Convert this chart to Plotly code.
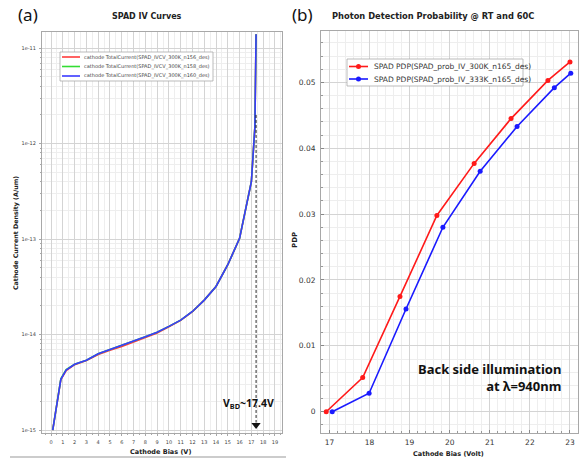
import plotly.graph_objects as go

W, H = 580, 461

# ---------------- data: panel (a) ----------------
iv_names = ["cathode TotalCurrent(SPAD_IVCV_300K_n156_des)",
            "cathode TotalCurrent(SPAD_IVCV_300K_n158_des)",
            "cathode TotalCurrent(SPAD_IVCV_300K_n160_des)"]
iv_colors = ["#ff3b3b", "#33dd33", "#3a3aff"]
iv_bias = [0.14, 0.83, 1.28, 2, 3, 4, 5, 6, 7, 8, 9, 10, 11, 12, 13, 14, 15, 16, 17, 17.3, 17.4]
iv_n156 = [1.0e-15, 3.38e-15, 4.2e-15, 4.85e-15, 5.35e-15, 6.2e-15, 6.85e-15, 7.5e-15, 8.4e-15, 9.3e-15,
           1.04e-14, 1.21e-14, 1.41e-14, 1.74e-14, 2.3e-14, 3.2e-14, 5.4e-14, 1.02e-13, 4.0e-13, 1.5e-12, 1.4e-11]
iv_n158 = [1.0e-15, 3.45e-15, 4.3e-15, 4.9e-15, 5.4e-15, 6.3e-15, 7.0e-15, 7.7e-15, 8.6e-15, 9.5e-15,
           1.06e-14, 1.22e-14, 1.42e-14, 1.75e-14, 2.3e-14, 3.2e-14, 5.4e-14, 1.02e-13, 4.0e-13, 1.5e-12, 1.4e-11]
iv_n160 = [1.0e-15, 3.4e-15, 4.26e-15, 4.9e-15, 5.4e-15, 6.3e-15, 7.0e-15, 7.7e-15, 8.6e-15, 9.5e-15,
           1.06e-14, 1.22e-14, 1.42e-14, 1.75e-14, 2.3e-14, 3.2e-14, 5.4e-14, 1.02e-13, 4.0e-13, 1.5e-12, 1.4e-11]
iv_series = [iv_n156, iv_n158, iv_n160]
iv_ytickvals = [1e-15, 1e-14, 1e-13, 1e-12, 1e-11]
iv_yticktext = ["1e-15", "1e-14", "1e-13", "1e-12", "1e-11"]
iv_xticks = list(range(0, 20))
vbd = 17.4
vbd_line_y = [2.0e-12, 1.2e-15]
vbd_arrow_y = 1.13e-15

# ---------------- data: panel (b) ----------------
pdp_names = ["SPAD PDP(SPAD_prob_IV_300K_n165_des)",
             "SPAD PDP(SPAD_prob_IV_333K_n165_des)"]
pdp_colors = ["#ff1a1a", "#1a1aff"]
pdp_300_x = [16.92, 17.83, 18.76, 19.68, 20.61, 21.53, 22.45, 23.0]
pdp_300_y = [0.0, 0.0052, 0.0175, 0.0298, 0.0377, 0.0445, 0.0503, 0.0531]
pdp_333_x = [17.07, 17.99, 18.91, 19.83, 20.76, 21.68, 22.61, 23.02]
pdp_333_y = [0.0, 0.0028, 0.0156, 0.0280, 0.0365, 0.0433, 0.0492, 0.0514]
pdp_xs = [pdp_300_x, pdp_333_x]
pdp_ys = [pdp_300_y, pdp_333_y]
pdp_yticks = [0, 0.01, 0.02, 0.03, 0.04, 0.05]
pdp_yticktext = ["0", "0.01", "0.02", "0.03", "0.04", "0.05"]


def px(x):
    return x / W


def py(y):
    return 1 - y / H


fig = go.Figure()

for name, col, ys in zip(iv_names, iv_colors, iv_series):
    fig.add_trace(go.Scatter(x=iv_bias, y=ys, mode="lines", name=name,
                             line=dict(color=col, width=1.6), showlegend=False,
                             xaxis="x", yaxis="y"))

fig.add_trace(go.Scatter(x=[vbd, vbd], y=vbd_line_y, mode="lines", showlegend=False,
                         line=dict(color="#111", width=0.9, dash="3px,2px"), xaxis="x", yaxis="y"))
fig.add_trace(go.Scatter(x=[vbd], y=[vbd_arrow_y], mode="markers", showlegend=False,
                         marker=dict(symbol="triangle-down", size=8, color="#111"),
                         xaxis="x", yaxis="y"))

for name, col, xs, ys in zip(pdp_names, pdp_colors, pdp_xs, pdp_ys):
    fig.add_trace(go.Scatter(x=xs, y=ys, mode="lines+markers", name=name,
                             line=dict(color=col, width=1.6),
                             marker=dict(color=col, size=5), showlegend=False,
                             xaxis="x2", yaxis="y2"))

grid_major = "#d4d4d4"
grid_minor = "#eeeeee"
frame = "#a8a8a8"
tickfont_a = dict(family="DejaVu Sans", size=5, color="#444")
tickfont_b = dict(family="DejaVu Sans", size=7.5, color="#333")

fig.update_layout(
    width=W, height=H,
    margin=dict(l=0, r=0, t=0, b=0),
    paper_bgcolor="white", plot_bgcolor="white",
    xaxis=dict(domain=[px(42), px(282)], range=[-0.77, 19.6], anchor="y",
               tickvals=iv_xticks, tickfont=tickfont_a, ticks="outside", ticklen=2,
               tickcolor=frame, showgrid=True, gridcolor=grid_major, gridwidth=1,
               minor=dict(dtick=0.5, tick0=0, showgrid=True, gridcolor=grid_minor,
                          ticks="outside", ticklen=1, tickcolor=frame),
               showline=True, linecolor=frame, mirror=True, zeroline=False, ticklabelstandoff=2),
    yaxis=dict(domain=[py(433), py(32)], type="log", range=[-15.03, -10.83], anchor="x",
               tickvals=iv_ytickvals, ticktext=iv_yticktext, tickfont=tickfont_a,
               ticks="outside", ticklen=2, tickcolor=frame,
               showgrid=True, gridcolor=grid_major,
               minor=dict(dtick="D1", showgrid=True, gridcolor=grid_minor,
                          ticks="outside", ticklen=1, tickcolor=frame),
               showline=True, linecolor=frame, mirror=True, zeroline=False, ticklabelstandoff=2),
    xaxis2=dict(domain=[px(321), px(578)], range=[16.79, 23.2], anchor="y2",
                dtick=1, tickfont=tickfont_b, ticks="inside", ticklen=3, tickcolor="#888",
                showgrid=True, gridcolor=grid_major,
                minor=dict(dtick=0.2, showgrid=True, gridcolor=grid_minor,
                           ticks="inside", ticklen=2, tickcolor="#999"),
                showline=True, linecolor=frame, mirror=True, zeroline=False, ticklabelstandoff=2),
    yaxis2=dict(domain=[py(433), py(31)], range=[-0.00323, 0.0578], anchor="x2",
                tickvals=pdp_yticks, ticktext=pdp_yticktext, tickfont=tickfont_b,
                ticks="inside", ticklen=3, tickcolor="#888",
                showgrid=True, gridcolor=grid_major,
                minor=dict(dtick=0.002, showgrid=True, gridcolor=grid_minor,
                           ticks="inside", ticklen=2, tickcolor="#999"),
                showline=True, linecolor=frame, mirror=True, zeroline=False, ticklabelstandoff=3),
)

ann = []
shapes = []


def text(x, y, s, size, bold=False, xanchor="center", yanchor="middle", angle=0,
         family="DejaVu Sans", color="#222", align="center"):
    ann.append(dict(x=px(x), y=py(y), xref="paper", yref="paper", showarrow=False,
                    text=f"<b>{s}</b>" if bold else s, textangle=angle,
                    xanchor=xanchor, yanchor=yanchor, align=align,
                    font=dict(family=family, size=size, color=color)))


# panel labels & titles
text(28, 15, "(a)", 17, family="Noto Sans", color="#111")
text(302, 15, "(b)", 17, family="Noto Sans", color="#111")
text(147, 16, "SPAD IV Curves", 8, bold=True)
text(433, 16, "Photon Detection Probability @ RT and 60C", 8.3, bold=True)

# axis titles
text(16, 233, "Cathode Current Density (A/um)", 6.3, bold=True, angle=-90)
text(160, 452, "Cathode Bias (V)", 6.5, bold=True)
text(295, 240, "PDP", 7, bold=True, angle=-90)
text(448, 454, "Cathode Bias (Volt)", 6.5, bold=True)

# annotations in plots
text(276, 403, "V<sub>BD</sub>~17.4V", 10.5, bold=True, xanchor="right", family="Noto Sans", color="#111")
text(563, 377.5, "Back side illumination<br>at λ=940nm", 13, bold=True, xanchor="right",
     family="Noto Sans", color="#111", align="right")

# separator line under panel (a)
shapes.append(dict(type="line", xref="paper", yref="paper", x0=px(10), x1=px(286),
                   y0=py(457), y1=py(457), line=dict(color="#999", width=1)))

# legend (a)
shapes.append(dict(type="rect", xref="paper", yref="paper", x0=px(60), x1=px(213),
                   y0=py(81), y1=py(52), line=dict(color="#aaa", width=0.8), fillcolor="white",
                   layer="above"))
for i, (name, col) in enumerate(zip(iv_names, iv_colors)):
    yy = 57 + i * 9.5
    shapes.append(dict(type="line", xref="paper", yref="paper", x0=px(62), x1=px(80),
                       y0=py(yy), y1=py(yy), line=dict(color=col, width=1.6), layer="above"))
    text(82, yy, name, 5, xanchor="left", color="#444")

# legend (b)
shapes.append(dict(type="rect", xref="paper", yref="paper", x0=px(347), x1=px(523),
                   y0=py(86), y1=py(59), line=dict(color="#aaa", width=0.8), fillcolor="white",
                   layer="above"))
for i, (name, col) in enumerate(zip(pdp_names, pdp_colors)):
    yy = 66.5 + i * 12.5
    shapes.append(dict(type="line", xref="paper", yref="paper", x0=px(349), x1=px(368),
                       y0=py(yy), y1=py(yy), line=dict(color=col, width=1.6), layer="above"))
    shapes.append(dict(type="circle", xref="paper", yref="paper", x0=px(356), x1=px(361),
                       y0=py(yy + 2.5), y1=py(yy - 2.5), line=dict(color=col, width=0),
                       fillcolor=col, layer="above"))
    text(372, yy, name, 7.5, xanchor="left", color="#333")

fig.update_layout(annotations=ann, shapes=shapes)
fig.write_html("out.html", config={"displayModeBar": False},
               post_script="document.body.style.margin='0';document.body.style.overflow='hidden';")
